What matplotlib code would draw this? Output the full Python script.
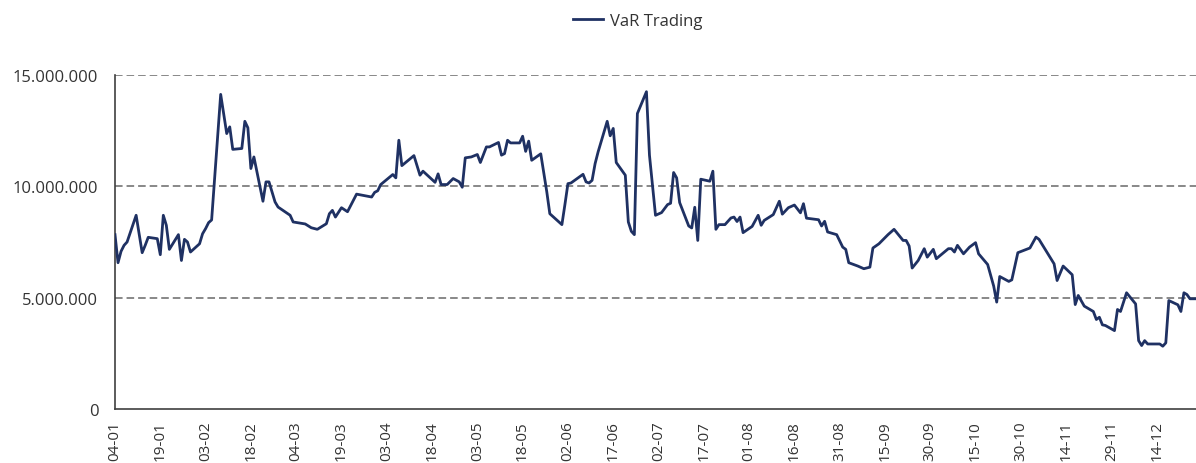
import matplotlib
matplotlib.use("Agg")
import matplotlib.pyplot as plt
import numpy as np
import pandas as pd
from matplotlib.ticker import FuncFormatter, FixedLocator

plt.rcParams['font.family'] = ['Open Sans', 'DejaVu Sans']

# ---------------- data ----------------
start_date = "2016-01-04"
series_name = "VaR Trading"

# days since 04-01
day_offsets = [0, 1, 2, 3, 4, 7, 9, 10, 11, 14, 15, 16, 17, 18, 21, 22, 23, 24, 25, 28,
               29, 30, 31, 32, 35, 37, 38, 39, 42, 43, 44, 45, 46, 49, 50, 51, 53, 54, 58, 59,
               63, 65, 67, 70, 71, 72, 73, 75, 77, 80, 85, 86, 87, 88, 92, 93, 94, 95, 99, 101,
               102, 106, 107, 108, 110, 112, 114, 115, 116, 118, 120, 121, 123, 124, 127, 128,
               129, 130, 131, 134, 135, 136, 137, 138, 141, 143, 144, 148, 149, 150, 151, 155,
               156, 157, 158, 159, 160, 163, 164, 165, 166, 169, 170, 171, 172, 173, 176, 177,
               179, 181, 183, 184, 185, 186, 187, 190, 191, 192, 193, 194, 197, 198, 199, 200,
               202, 204, 205, 206, 207, 208, 211, 213, 214, 215, 218, 220, 221, 223, 225, 227,
               228, 229, 233, 234, 235, 236, 239, 241, 242, 243, 246, 248, 250, 251, 253, 256,
               258, 261, 262, 263, 264, 266, 268, 269, 271, 272, 276, 277, 278, 279, 281, 283,
               285, 286, 289, 291, 292, 293, 296, 297, 298, 299, 303, 305, 306, 311, 312, 314,
               317, 318, 319, 321, 324, 325, 326, 327, 328, 331, 332, 333, 335, 338, 339, 340,
               341, 342, 346, 347, 348, 349, 352, 353, 354, 355, 356, 358]

# VaR in millions
var_millions = [7.83, 6.57, 7.08, 7.35, 7.50, 8.70, 7.02, 7.35, 7.71, 7.65, 6.93, 8.70, 8.25, 7.17,
                7.83, 6.67, 7.62, 7.50, 7.05, 7.42, 7.87, 8.10, 8.37, 8.49, 14.13, 12.37, 12.67,
                11.66, 11.70, 12.92, 12.63, 10.80, 11.32, 9.33, 10.20, 10.20, 9.30, 9.07, 8.70,
                8.40, 8.31, 8.14, 8.07, 8.32, 8.77, 8.92, 8.62, 9.04, 8.86, 9.65, 9.52, 9.73,
                9.80, 10.08, 10.53, 10.38, 12.07, 10.93, 11.38, 10.50, 10.68, 10.18, 10.56,
                10.08, 10.08, 10.35, 10.20, 9.96, 11.28, 11.32, 11.43, 11.07, 11.77, 11.77,
                11.97, 11.40, 11.47, 12.07, 11.95, 11.95, 12.25, 11.57, 12.03, 11.17, 11.46,
                9.75, 8.77, 8.28, 9.18, 10.12, 10.15, 10.54, 10.20, 10.15, 10.27, 11.02, 11.55,
                12.92, 12.27, 12.60, 11.07, 10.50, 8.40, 7.98, 7.83, 13.27, 14.25, 11.40, 8.70,
                8.82, 9.18, 9.24, 10.62, 10.38, 9.27, 8.22, 8.13, 9.06, 7.57, 10.32, 10.23,
                10.68, 8.07, 8.28, 8.28, 8.58, 8.62, 8.42, 8.62, 7.92, 8.20, 8.70, 8.25, 8.47,
                8.73, 9.33, 8.75, 9.04, 9.16, 8.81, 9.22, 8.57, 8.50, 8.22, 8.43, 7.95, 7.83,
                7.27, 7.17, 6.57, 6.42, 6.30, 6.37, 7.23, 7.42, 7.83, 8.07, 7.57, 7.57, 7.32,
                6.33, 6.67, 7.20, 6.82, 7.17, 6.75, 7.20, 7.20, 7.05, 7.35, 6.97, 7.27, 7.47,
                6.97, 6.49, 5.52, 4.80, 5.95, 5.73, 5.80, 6.42, 7.02, 7.23, 7.72, 7.62, 6.52,
                5.77, 6.42, 6.03, 4.69, 5.10, 4.62, 4.38, 4.02, 4.12, 3.78, 3.75, 3.52, 4.47,
                4.38, 5.22, 4.72, 3.07, 2.85, 3.07, 2.92, 2.92, 2.82, 2.97, 4.87, 4.68, 4.38,
                5.22, 5.14, 4.95, 4.95]

y_ticks = [0, 5_000_000, 10_000_000, 15_000_000]
x_tick_step_days = 15
n_x_ticks = 24

# ---------------- plot ----------------
start = pd.Timestamp(start_date)
dates = start + pd.to_timedelta(day_offsets, unit="D")
values = np.array(var_millions) * 1e6

W, H = 1196, 464
fig = plt.figure(figsize=(W / 100, H / 100), dpi=100)
ax = fig.add_axes([115 / W, (H - 410) / H, (W - 115) / W, (410 - 76) / H])

text_color = "#333333"
grid_color = "#7f7f7f"

for yv in y_ticks[1:]:
    ax.axhline(yv, color=grid_color, lw=1.3, dashes=(4.2, 2.2), zorder=1)

line, = ax.plot(dates, values, color="#1f3163", lw=2.0, label=series_name,
                solid_joinstyle="round", zorder=3)

ax.set_ylim(0, 15_000_000)
ax.set_xlim(dates[0], dates[-1])

ax.yaxis.set_major_locator(FixedLocator(y_ticks))
ax.yaxis.set_major_formatter(FuncFormatter(lambda v, p: f"{int(v):,}".replace(",", ".")))

tick_dates = [start + pd.Timedelta(days=x_tick_step_days * k) for k in range(n_x_ticks)]
ax.set_xticks(tick_dates)
ax.set_xticklabels([d.strftime("%d-%m") for d in tick_dates], rotation=90)

ax.tick_params(axis="y", length=0, pad=12, labelsize=12, labelcolor=text_color)
ax.tick_params(axis="x", length=0, pad=8, labelsize=11, labelcolor=text_color)

for s in ["top", "right"]:
    ax.spines[s].set_visible(False)
for s in ["left", "bottom"]:
    ax.spines[s].set_color("#404040")
    ax.spines[s].set_linewidth(1.2)

fig.legend(handles=[line], loc="center", bbox_to_anchor=(638 / W, 1 - 22 / H),
           frameon=False, fontsize=12, handlelength=1.8, handletextpad=0.4,
           labelcolor=text_color)

fig.savefig("out.png", dpi=100)
